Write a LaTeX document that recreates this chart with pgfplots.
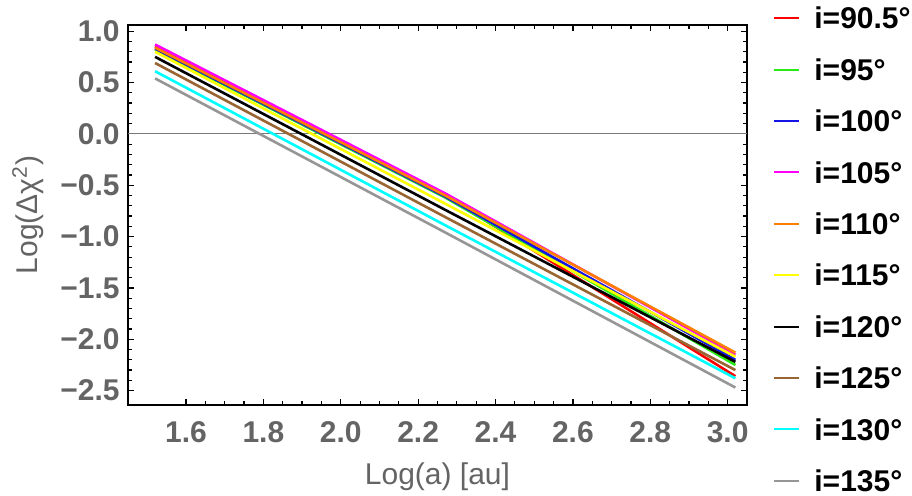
\documentclass[border=0pt]{standalone}
\usepackage{pgfplots}
\pgfplotsset{compat=1.18}
\usepackage{fontspec}
\setmainfont{Liberation Sans}
\definecolor{labgray}{RGB}{100,100,100}
\definecolor{cRed}{RGB}{255,0,0}
\definecolor{cGreen}{RGB}{40,235,20}
\definecolor{cBlue}{RGB}{20,20,230}
\definecolor{cMag}{RGB}{255,0,255}
\definecolor{cOrange}{RGB}{255,128,0}
\definecolor{cYellow}{RGB}{255,255,0}
\definecolor{cBlack}{RGB}{0,0,0}
\definecolor{cBrown}{RGB}{153,102,51}
\definecolor{cCyan}{RGB}{0,255,255}
\definecolor{cGray}{RGB}{150,150,150}
\begin{document}
\begin{tikzpicture}
\useasboundingbox (-64pt,-45pt) rectangle (392pt,202.5pt);
\begin{axis}[
  at={(0,0)}, anchor=south west,
  scale only axis, width=309.5pt, height=190pt,
  xmin=1.45, xmax=3.05, ymin=-2.64, ymax=1.06,
  xtick={1.6,1.8,2.0,2.2,2.4,2.6,2.8,3.0},
  xticklabels={1.6,1.8,2.0,2.2,2.4,2.6,2.8,3.0},
  ytick={-2.5,-2,-1.5,-1,-0.5,0,0.5,1},
  yticklabels={−2.5,−2.0,−1.5,−1.0,−0.5,0.0,0.5,1.0},
  minor x tick num=3, minor y tick num=4,
  tick align=inside,
  major tick length=3pt, minor tick length=1.8pt,
  every tick/.style={black, line width=0.6pt},
  axis line style={black, line width=0.8pt},
  tick label style={font=\fontsize{15}{15}\selectfont\bfseries, text=labgray},
  xticklabel style={anchor=north, inner sep=0pt, yshift=-8pt},
  yticklabel style={anchor=east, inner sep=0pt, xshift=-4pt},
  xlabel={Log(a) [au]},
  ylabel={Log(Δχ\textsuperscript{2})},
  label style={font=\fontsize{15}{15}\selectfont, text=labgray},
  xlabel style={at={(axis description cs:0.5,0)}, anchor=center, yshift=-36pt},
  ylabel style={at={(axis description cs:-0.1616,0.5)}, anchor=center, rotate=0},
  legend cell align=left,
  legend image code/.code={\draw[#1, line width=1pt] (0pt,0pt) -- (12.5pt,0pt);},
  legend style={draw=none, fill=none, inner sep=0pt,
    at={(axis description cs:1.042,1.047)}, anchor=north west,
    font=\fontsize{15}{15}\selectfont\bfseries,
    nodes={inner sep=0pt, text height=10.7pt, text depth=0pt},
    row sep=15.0pt, column sep=7pt},
  every axis plot/.append style={line width=1.3pt},
]
\addplot[cGray!80!black, line width=0.5pt, forget plot] coordinates {(1.45,0) (3.05,0)};
\addplot[cRed] coordinates {(1.52,0.85) (2.27,-0.60) (3.02,-2.36)};
\addlegendentry{i=90.5°}
\addplot[cGreen] coordinates {(1.52,0.82) (2.27,-0.62) (3.02,-2.25)};
\addlegendentry{i=95°}
\addplot[cBlue] coordinates {(1.52,0.83) (2.27,-0.61) (3.02,-2.20)};
\addlegendentry{i=100°}
\addplot[cMag] coordinates {(1.52,0.87) (2.27,-0.58) (3.02,-2.15)};
\addlegendentry{i=105°}
\addplot[cOrange] coordinates {(1.52,0.84) (2.27,-0.60) (3.02,-2.13)};
\addlegendentry{i=110°}
\addplot[cYellow] coordinates {(1.52,0.80) (2.27,-0.68) (3.02,-2.17)};
\addlegendentry{i=115°}
\addplot[cBlack] coordinates {(1.52,0.75) (2.27,-0.74) (3.02,-2.22)};
\addlegendentry{i=120°}
\addplot[cBrown] coordinates {(1.52,0.69) (2.27,-0.81) (3.02,-2.30)};
\addlegendentry{i=125°}
\addplot[cCyan] coordinates {(1.52,0.61) (2.27,-0.89) (3.02,-2.38)};
\addlegendentry{i=130°}
\addplot[cGray] coordinates {(1.52,0.54) (2.27,-0.96) (3.02,-2.47)};
\addlegendentry{i=135°}
\end{axis}
\end{tikzpicture}
\end{document}
